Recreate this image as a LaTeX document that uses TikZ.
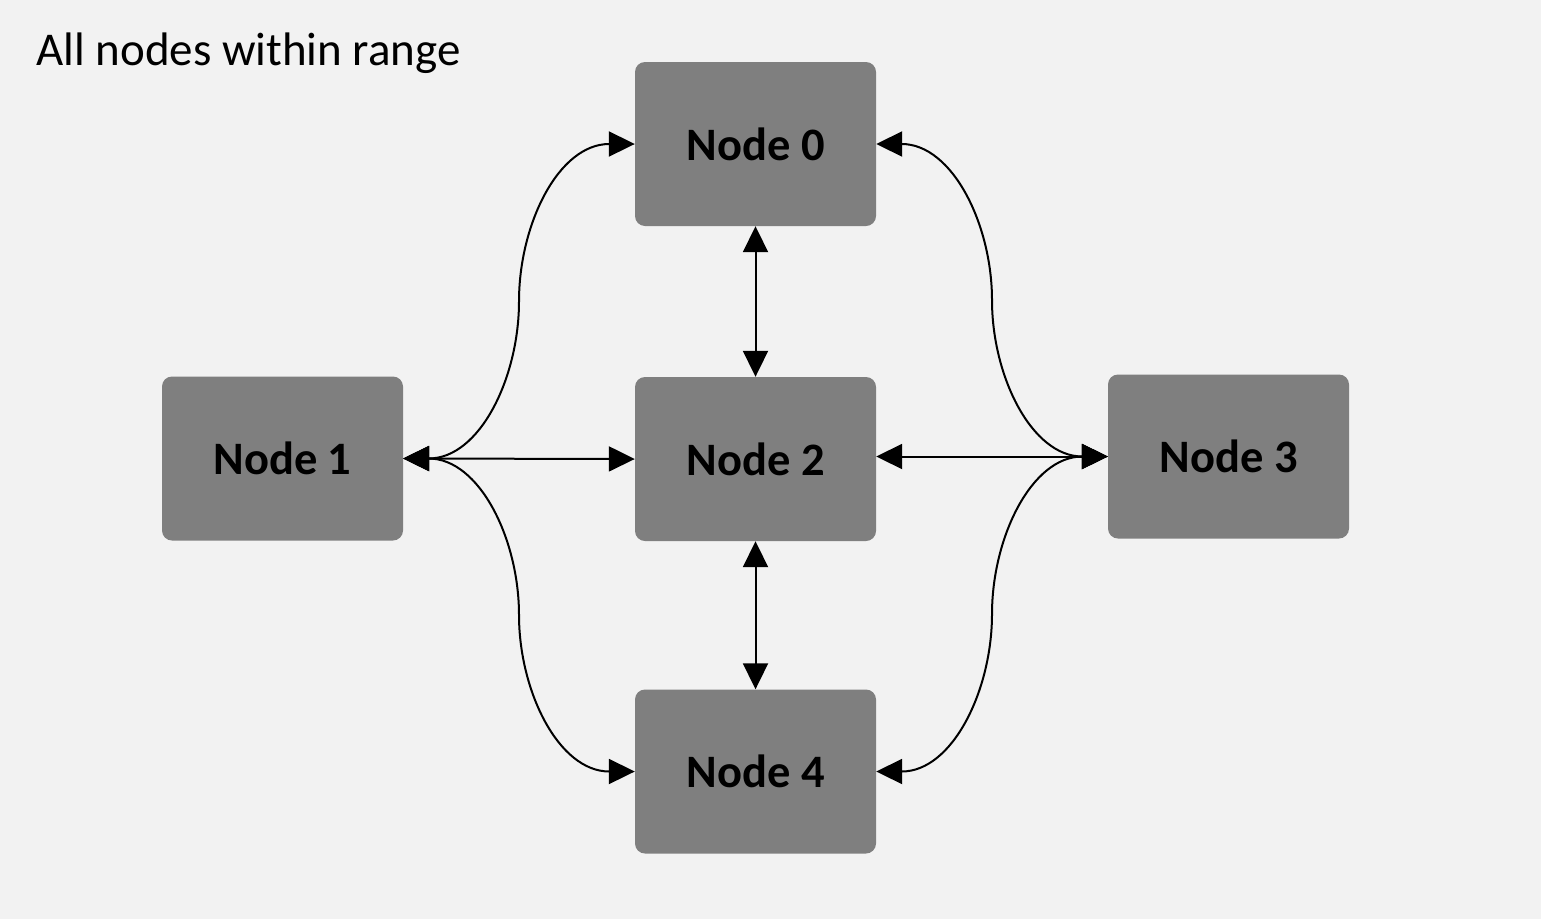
\documentclass[tikz,border=0pt]{standalone}
\usepackage{fontspec}
\setmainfont{Carlito}
\usetikzlibrary{arrows.meta,calc}
\definecolor{bg}{HTML}{F2F2F2}
\definecolor{boxgray}{HTML}{7F7F7F}
\begin{document}
\begin{tikzpicture}[x=1pt,y=-1pt,
  netnode/.style={draw=none,fill=boxgray,rounded corners=10pt,
    minimum width=241pt,minimum height=164pt,inner sep=0pt,
    font=\fontsize{46.5}{52}\selectfont\bfseries},
  link/.style={line width=2pt,
    {Triangle[length=26pt,width=25pt]}-{Triangle[length=26pt,width=25pt]}}]
  % canvas
  \fill[bg] (0,0) rectangle (1541,919);
  \useasboundingbox (0,0) rectangle (1541,919);
  % heading
  \node[anchor=base west,inner sep=0pt,font=\fontsize{47}{54}\selectfont]
    (title) at (36,65) {All nodes within range};
  % the five stations
  \node[netnode] (n0) at (755.5,144)   {Node 0};
  \node[netnode] (n1) at (282.5,458.5) {Node 1};
  \node[netnode] (n2) at (755.5,459)   {Node 2};
  \node[netnode] (n3) at (1228.5,456.5){Node 3};
  \node[netnode] (n4) at (755.5,771.5) {Node 4};
  % straight links
  \draw[link] (n1.east) -- (n2.west);
  \draw[link] (n2.east |- n3.west) -- (n3.west);
  \draw[link] (n0.south) -- (n2.north);
  \draw[link] (n2.south) -- (n4.north);
  % curved links, each bending through the midpoint of its ends
  \coordinate (m10) at ($(n1.east)!0.5!(n0.west)$);
  \coordinate (m14) at ($(n1.east)!0.5!(n4.west)$);
  \coordinate (m30) at ($(n3.west)!0.5!(n0.east)$);
  \coordinate (m34) at ($(n3.west)!0.5!(n4.east)$);
  \draw[link] (n1.east) to[out=0,in=-90] (m10) to[out=90,in=180] (n0.west);
  \draw[link] (n1.east) to[out=0,in=90] (m14) to[out=-90,in=180] (n4.west);
  \draw[link] (n3.west) to[out=180,in=-90] (m30) to[out=90,in=0] (n0.east);
  \draw[link] (n3.west) to[out=180,in=90] (m34) to[out=-90,in=0] (n4.east);
\end{tikzpicture}
\end{document}
